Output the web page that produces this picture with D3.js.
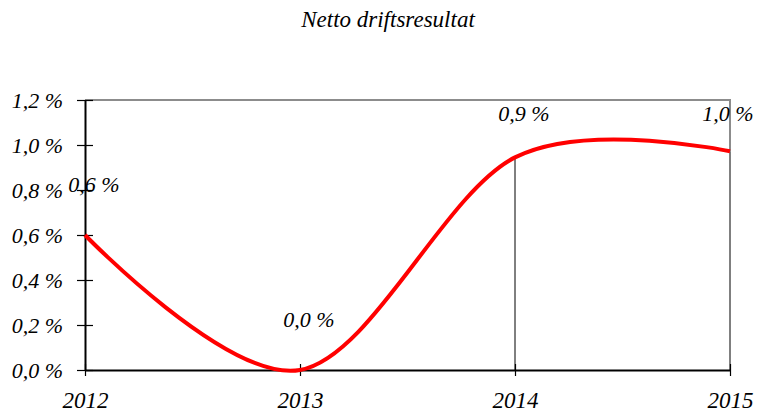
<!DOCTYPE html>
<html>
<head>
<meta charset="utf-8">
<script src="https://cdn.jsdelivr.net/npm/d3@7"></script>
<style>
  body { margin: 0; background: #fff; }
  text { font-family: "Liberation Serif", "DejaVu Serif", serif; font-style: italic; fill: #000; }
</style>
</head>
<body>
<div class="chart"></div>
<script>
const years = ["2012", "2013", "2014", "2015"];
const values = [0.6, 0.0, 0.945, 0.972];
const labels = ["0,6 %", "0,0 %", "0,9 %", "1,0 %"];
const yTicks = [0, 0.2, 0.4, 0.6, 0.8, 1.0, 1.2];

const width = 757, height = 413;
const margin = {top: 100, right: 27, bottom: 43, left: 85};

const svg = d3.select(".chart").append("svg")
  .attr("width", width)
  .attr("height", height);

const x = d3.scalePoint().domain(years).range([margin.left, width - margin.right]);
const y = d3.scaleLinear().domain([0, 1.2]).range([height - margin.bottom, margin.top]);

const fmt = v => d3.format(".1f")(v).replace(".", ",") + " %";

// ramme oppe og til hoyre (gra)
svg.append("path")
  .attr("d", `M${x.range()[0]},${y(1.2)}H${x.range()[1]}V${y(values[3])}`)
  .attr("fill", "none")
  .attr("stroke", "#8c8c8c")
  .attr("stroke-width", 2);

// loddlinjer
svg.selectAll(".drop")
  .data(years.map((d, i) => [d, values[i]]).filter((d, i) => i > 1))
  .enter().append("line")
  .attr("x1", d => x(d[0])).attr("x2", d => x(d[0]))
  .attr("y1", d => y(d[1])).attr("y2", y(0))
  .attr("stroke", "#000").attr("stroke-width", 1);

// y-akse
const yAxis = svg.append("g")
  .attr("transform", `translate(${margin.left},0)`)
  .call(d3.axisLeft(y).tickValues(yTicks).tickFormat(fmt).tickSize(8).tickSizeOuter(0));
yAxis.select(".domain").attr("stroke", "#000").attr("stroke-width", 2);
yAxis.selectAll(".tick line").attr("x2", 8).attr("x1", -8).attr("stroke", "#000").attr("stroke-width", 1.2);
yAxis.selectAll(".tick text").attr("x", -22).attr("dy", "0.35em").style("font-size", "22px");

// x-akse
const xAxis = svg.append("g")
  .attr("transform", `translate(0,${y(0)})`)
  .call(d3.axisBottom(x).tickSize(6).tickSizeOuter(0));
xAxis.select(".domain").attr("stroke", "#000").attr("stroke-width", 2);
xAxis.selectAll(".tick line").attr("y1", -6).attr("y2", 6).attr("stroke", "#000").attr("stroke-width", 1.2);
xAxis.selectAll(".tick text").attr("y", 30).attr("dy", "0.35em").style("font-size", "23px");
svg.selectAll(".domain").attr("fill", "none");

// glattet linje
const line = d3.line()
  .x((d, i) => x(years[i]))
  .y(d => y(d))
  .curve(d3.curveCatmullRom.alpha(0));

svg.append("path")
  .datum(values)
  .attr("d", line)
  .attr("fill", "none")
  .attr("stroke", "#ff0000")
  .attr("stroke-width", 4);

// dataetiketter
svg.selectAll(".lbl")
  .data(values)
  .enter().append("text")
  .attr("x", (d, i) => Math.min(x(years[i]) + 9, width - 29))
  .attr("y", d => Math.max(y(d) - 43, 121))
  .attr("text-anchor", "middle")
  .style("font-size", "22px")
  .text((d, i) => labels[i]);

// tittel
svg.append("text")
  .attr("x", 388)
  .attr("y", 27)
  .attr("text-anchor", "middle")
  .style("font-size", "23px")
  .text("Netto driftsresultat");
</script>
</body>
</html>
